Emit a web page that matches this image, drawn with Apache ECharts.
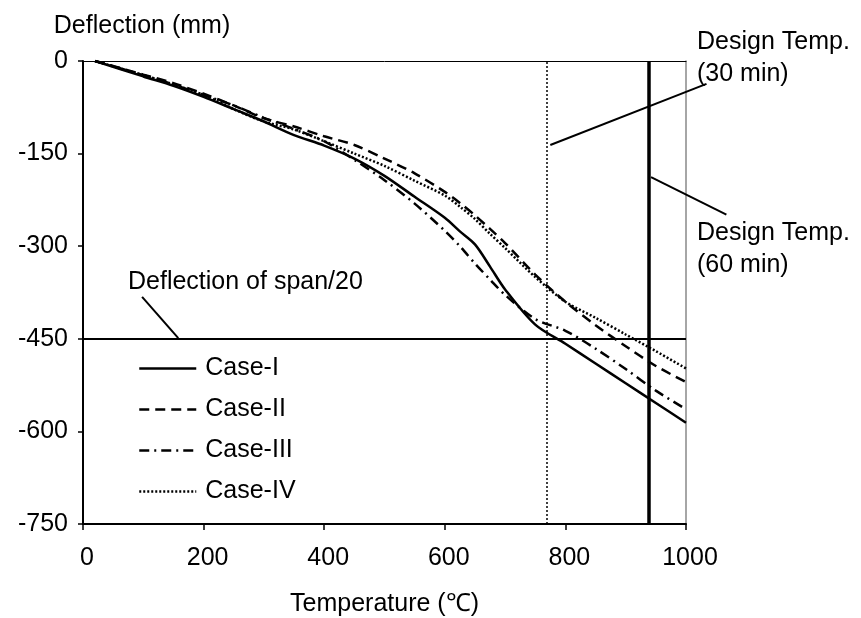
<!DOCTYPE html>
<html>
<head>
<meta charset="utf-8">
<script src="https://cdn.jsdelivr.net/npm/echarts@6/dist/echarts.min.js"></script>
<style>
  html, body { margin: 0; padding: 0; background: #fff; }
  #chart { width: 861px; height: 618px; }
</style>
</head>
<body>
<div id="chart"></div>
<script>
// ---- Data ----
const temperature = [20, 100, 150, 200, 250, 300, 350, 400, 450, 500, 550, 600, 625, 650, 675, 700, 750, 800, 850, 900, 950, 1000];
const caseI   = [0, -25, -40, -58, -78, -98, -120, -137, -158, -186, -220, -254, -276, -297, -333, -370, -427, -458, -490, -522, -554, -586];
const caseII  = [0, -22, -36, -53, -72, -93, -106, -122, -136, -158, -182, -212, -230, -250, -272, -295, -346, -390, -428, -462, -494, -520];
const caseIII = [0, -23, -38, -55, -72, -92, -110, -130, -160, -193, -231, -275, -300, -328, -354, -379, -418, -437, -466, -499, -534, -564];
const caseIV  = [0, -23, -38, -55, -78, -98, -111, -130, -150, -170, -194, -218, -236, -256, -280, -303, -350, -390, -416, -443, -470, -498];
const seriesNames = ['Case-I', 'Case-II', 'Case-III', 'Case-IV'];
const xTicks = [0, 200, 400, 600, 800, 1000];
const yTicks = [0, -150, -300, -450, -600, -750];
const designTemp30 = 769;
const designTemp60 = 938;
const spanLimit = -450;

const FONT = "'Liberation Sans', Arial, Helvetica, sans-serif";
const FS = 25;

function pairs(ys) { return temperature.map((t, i) => [t, ys[i]]); }

const chart = echarts.init(document.getElementById('chart'), null, { renderer: 'canvas' });

const styles = [
  { type: 'solid', width: 2.5 },
  { type: [10, 6], width: 2.5 },
  { type: [10, 5, 2, 5], width: 2.5 },
  { type: [2, 2], width: 2.5 }
];
const values = [caseI, caseII, caseIII, caseIV];

const series = values.map((v, i) => ({
  name: seriesNames[i],
  type: 'line',
  data: pairs(v),
  symbol: 'none',
  smooth: 0.3,
  lineStyle: { color: '#000', width: styles[i].width, type: styles[i].type },
  itemStyle: { color: '#000' },
  z: 3
}));

series[0].markLine = {
  silent: true,
  symbol: 'none',
  label: { show: false },
  data: [
    { xAxis: designTemp30, lineStyle: { color: '#000', width: 1.5, type: [2, 2] } },
    { xAxis: designTemp60, lineStyle: { color: '#000', width: 3.5, type: 'solid' } },
    { yAxis: spanLimit, lineStyle: { color: '#000', width: 2, type: 'solid' } }
  ]
};

chart.setOption({
  animation: false,
  backgroundColor: '#fff',
  grid: { left: 83, right: 175, top: 61, bottom: 94, outerBoundsMode: 'none', containLabel: false },
  legend: {
    orient: 'vertical',
    left: 138,
    top: 356,
    padding: 0,
    itemWidth: 57,
    itemHeight: 14,
    itemGap: 16,
    data: seriesNames,
    itemStyle: { opacity: 0, borderWidth: 0 },
    lineStyle: { width: 2.5 },
    textStyle: { fontFamily: FONT, fontSize: FS, color: '#000', lineHeight: 24, padding: [0, 0, 0, 4] }
  },
  xAxis: [{
    type: 'value',
    min: 0, max: 1000, interval: 200,
    name: 'Temperature (℃)',
    nameLocation: 'middle',
    nameGap: 68,
    nameTextStyle: { fontFamily: FONT, fontSize: FS, color: '#000' },
    axisLine: { show: true, onZero: false, lineStyle: { color: '#000', width: 2 } },
    axisTick: { show: true, inside: false, length: 6, lineStyle: { color: '#000', width: 1.5 } },
    axisLabel: { fontFamily: FONT, fontSize: FS, color: '#000', margin: 22, padding: [0, 0, 0, 8],
      formatter: v => xTicks.includes(v) ? String(v) : '' },
    splitLine: { show: false }
  }, {
    type: 'value', position: 'top', min: 0, max: 1000, interval: 200,
    axisLine: { show: true, onZero: false, lineStyle: { color: '#000', width: 1 } },
    axisTick: { show: false }, axisLabel: { show: false }, splitLine: { show: false }
  }],
  yAxis: [{
    type: 'value',
    min: -750, max: 0, interval: 150,
    name: 'Deflection (mm)',
    nameLocation: 'end',
    nameGap: 22,
    nameTextStyle: { fontFamily: FONT, fontSize: FS, color: '#000', align: 'center', padding: [0, 0, 0, 118] },
    axisLine: { show: true, onZero: false, lineStyle: { color: '#000', width: 2 } },
    axisTick: { show: true, inside: false, length: 5, lineStyle: { color: '#000', width: 1.5 } },
    axisLabel: { fontFamily: FONT, fontSize: FS, color: '#000', margin: 15,
      formatter: v => yTicks.includes(v) ? String(v) : '' },
    splitLine: { show: false }
  }, {
    type: 'value', position: 'right', min: -750, max: 0, interval: 150,
    axisLine: { show: true, onZero: false, lineStyle: { color: '#888', width: 1.5 } },
    axisTick: { show: false }, axisLabel: { show: false }, splitLine: { show: false }
  }],
  series: series
});

// ---- Annotations: leader lines anchored in data coordinates ----
const leaders = [
  { from: [775, -136], to: [1034, -37] },
  { from: [942, -188], to: [1067, -249] },
  { from: [98, -382], to: [158, -449] }
];
const px = p => chart.convertToPixel({ gridIndex: 0 }, p);
const graphic = leaders.map(l => {
  const a = px(l.from), b = px(l.to);
  return { type: 'line', shape: { x1: a[0], y1: a[1], x2: b[0], y2: b[1] },
           style: { stroke: '#000', lineWidth: 2 }, z: 10 };
});
const textStyleBase = { font: FS + 'px ' + FONT, fill: '#000', lineHeight: 32 };
graphic.push({ type: 'text', left: 697, top: 26, z: 10,
  style: Object.assign({ text: 'Design Temp.\n(30 min)' }, textStyleBase) });
graphic.push({ type: 'text', left: 697, top: 217, z: 10,
  style: Object.assign({ text: 'Design Temp.\n(60 min)' }, textStyleBase) });
graphic.push({ type: 'text', left: 128, top: 266, z: 10,
  style: Object.assign({ text: 'Deflection of span/20' }, textStyleBase) });
chart.setOption({ graphic: graphic });
</script>
</body>
</html>
